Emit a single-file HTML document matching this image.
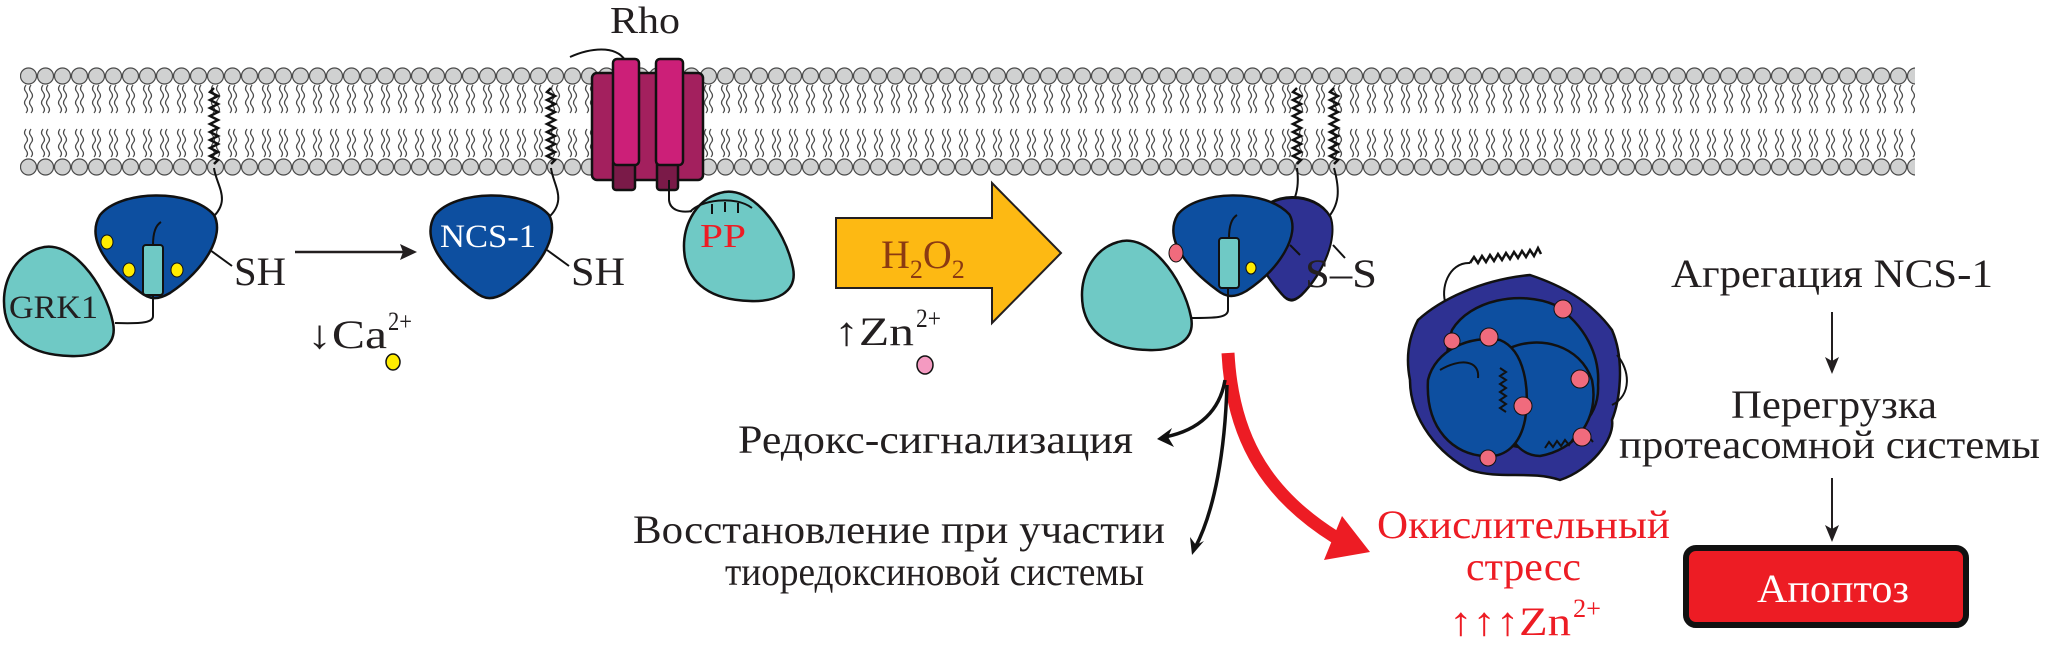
<!DOCTYPE html>
<html><head><meta charset="utf-8"><style>
html,body{margin:0;padding:0;background:#fff;}
svg{display:block;}
text{font-family:"Liberation Serif","DejaVu Serif",serif;fill:#231f20;}
</style></head><body>
<svg width="2048" height="651" viewBox="0 0 2048 651" xmlns="http://www.w3.org/2000/svg">
<defs>
<pattern id="heads" x="20" y="0" width="17" height="651" patternUnits="userSpaceOnUse">
<circle cx="8.5" cy="76" r="8" fill="#d0d1d1" stroke="#4a4a4a" stroke-width="1.2"/>
<circle cx="8.5" cy="167" r="8" fill="#d0d1d1" stroke="#4a4a4a" stroke-width="1.2"/>
<path d="M6,85 q-3,4 0,7 q3,4 0,7 q-3,4 0,7 q3,4 0,7 M11,85 q-3,4 0,7 q3,4 0,7 q-3,4 0,7 q3,4 0,7" fill="none" stroke="#4a4a4a" stroke-width="1.2"/>
<path d="M6,129 q-3,4 0,7 q3,4 0,7 q-3,4 0,7 q3,4 0,7 M11,129 q-3,4 0,7 q3,4 0,7 q-3,4 0,7 q3,4 0,7" fill="none" stroke="#4a4a4a" stroke-width="1.2"/>
</pattern>
<path id="ncs" d="M11,22 C31,-3 101,-5 125,22 C136,42 116,77 81,100 C69,107 61,107 51,99 C21,77 -4,47 11,22Z"/>
<path id="egg" d="M40,5 C70,-5 105,40 113,80 C118,105 95,114 70,113 C30,112 10,95 5,70 C0,40 15,12 40,5Z"/>
</defs>
<rect x="20" y="60" width="1895" height="125" fill="url(#heads)"/>

<g fill="none" stroke="#111" stroke-width="2.5">
<path d="M214,88 l-4,4 l8,4 l-8,4 l8,4 l-8,4 l8,4 l-8,4 l8,4 l-8,4 l8,4 l-8,4 l8,4 l-8,4 l8,4 l-8,4 l8,4 l-8,4 l8,4 l-4,4"/>
<path d="M551,88 l-4,4 l8,4 l-8,4 l8,4 l-8,4 l8,4 l-8,4 l8,4 l-8,4 l8,4 l-8,4 l8,4 l-8,4 l8,4 l-8,4 l8,4 l-8,4 l8,4 l-4,4"/>
<path d="M1297,88 l-4,4 l8,4 l-8,4 l8,4 l-8,4 l8,4 l-8,4 l8,4 l-8,4 l8,4 l-8,4 l8,4 l-8,4 l8,4 l-8,4 l8,4 l-8,4 l8,4 l-4,4"/>
<path d="M1334,88 l-4,4 l8,4 l-8,4 l8,4 l-8,4 l8,4 l-8,4 l8,4 l-8,4 l8,4 l-8,4 l8,4 l-8,4 l8,4 l-8,4 l8,4 l-8,4 l8,4 l-4,4"/>
</g>
<g fill="none" stroke="#111" stroke-width="2">
<path d="M214,168 C216,185 232,200 212,218"/>
<path d="M551,168 C553,185 568,200 548,218"/>
<path d="M1297,168 C1300,190 1295,205 1280,218"/>
<path d="M1334,168 C1340,190 1340,205 1326,220"/>
</g>

<text x="610" y="33" font-size="38" textLength="70" lengthAdjust="spacingAndGlyphs">Rho</text>
<path d="M570,57 C590,48 615,45 625,60" fill="none" stroke="#111" stroke-width="2"/>
<rect x="592" y="73" width="111" height="107" rx="5" fill="#a3205e" stroke="#111" stroke-width="2.5"/>
<rect x="613" y="160" width="22" height="30" rx="3" fill="#7a1a48" stroke="#111" stroke-width="2.5"/>
<rect x="657" y="160" width="21" height="30" rx="3" fill="#7a1a48" stroke="#111" stroke-width="2.5"/>
<rect x="613" y="59" width="26" height="106" rx="4" fill="#cc1f78" stroke="#111" stroke-width="2.5"/>
<rect x="656" y="59" width="27" height="106" rx="4" fill="#cc1f78" stroke="#111" stroke-width="2.5"/>
<path d="M669,180 L669,200 C670,210 680,213 692,211" fill="none" stroke="#111" stroke-width="2"/>

<use href="#egg" transform="translate(680,188)" fill="#6fc9c5" stroke="#111" stroke-width="2.5"/>
<path d="M690,212 C700,200 735,195 752,208 M712,204 v10 M725,202 v10 M738,203 v10" fill="none" stroke="#111" stroke-width="2"/>
<text x="700" y="247" font-size="34" style="fill:#ed1c24" textLength="46" lengthAdjust="spacingAndGlyphs">PP</text>

<use href="#egg" transform="translate(0,243)" fill="#6fc9c5" stroke="#111" stroke-width="2.5"/>
<text x="9" y="318" font-size="33" textLength="89" lengthAdjust="spacingAndGlyphs">GRK1</text>
<use href="#ncs" transform="translate(89,193)" fill="#0d4fa0" stroke="#111" stroke-width="2.5"/>
<path d="M153,245 C153,232 156,225 161,222" fill="none" stroke="#111" stroke-width="2"/>
<rect x="143" y="245" width="20" height="50" rx="3" fill="#6fc9c5" stroke="#111" stroke-width="2"/>
<path d="M153,295 L153,316 C153,322 145,324 115,323" fill="none" stroke="#111" stroke-width="2"/>
<ellipse cx="107" cy="242" rx="6" ry="7" fill="#ffec00" stroke="#111" stroke-width="1"/>
<ellipse cx="129" cy="270" rx="6" ry="7" fill="#ffec00" stroke="#111" stroke-width="1"/>
<ellipse cx="177" cy="270" rx="6" ry="7" fill="#ffec00" stroke="#111" stroke-width="1"/>
<line x1="210" y1="250" x2="232" y2="266" stroke="#111" stroke-width="2"/>
<text x="234" y="285" font-size="40" textLength="52" lengthAdjust="spacingAndGlyphs">SH</text>

<line x1="295" y1="252" x2="405" y2="252" stroke="#231f20" stroke-width="2.5"/>
<path d="M417,252 L400,244 L403,252 L400,260Z" fill="#231f20"/>

<use href="#ncs" transform="translate(424,193)" fill="#0d4fa0" stroke="#111" stroke-width="2.5"/>
<text x="440" y="247" font-size="33" style="fill:#fff" textLength="96" lengthAdjust="spacingAndGlyphs">NCS-1</text>
<line x1="547" y1="250" x2="569" y2="266" stroke="#111" stroke-width="2"/>
<text x="571" y="285" font-size="40" textLength="54" lengthAdjust="spacingAndGlyphs">SH</text>

<text x="307" y="348" font-size="40" textLength="80" lengthAdjust="spacingAndGlyphs">↓Ca</text>
<text x="388" y="330" font-size="26" textLength="24" lengthAdjust="spacingAndGlyphs">2+</text>
<ellipse cx="393" cy="362" rx="7" ry="8" fill="#ffec00" stroke="#111" stroke-width="1.5"/>

<path d="M836,218 L992,218 L992,183 L1061,253 L992,323 L992,288 L836,288Z" fill="#fdb913" stroke="#231f20" stroke-width="2"/>
<text x="881" y="268" font-size="40" style="fill:#8b3a12">H<tspan font-size="26" dy="10">2</tspan><tspan dy="-10">O</tspan><tspan font-size="26" dy="10">2</tspan></text>

<text x="834" y="345" font-size="40" textLength="80" lengthAdjust="spacingAndGlyphs">↑Zn</text>
<text x="916" y="327" font-size="26" textLength="25" lengthAdjust="spacingAndGlyphs">2+</text>
<ellipse cx="925" cy="365" rx="8" ry="9" fill="#f49ac1" stroke="#111" stroke-width="1.5"/>

<use href="#egg" transform="translate(1078,237)" fill="#6fc9c5" stroke="#111" stroke-width="2.5"/>
<use href="#ncs" transform="translate(1248,195) scale(0.66,1)" fill="#2e3192" stroke="#111" stroke-width="3"/>
<use href="#ncs" transform="translate(1167,193) scale(0.98,0.98)" fill="#0d4fa0" stroke="#111" stroke-width="2.5"/>
<path d="M1229,238 C1229,225 1232,218 1237,215" fill="none" stroke="#111" stroke-width="2"/>
<rect x="1219" y="238" width="20" height="50" rx="3" fill="#6fc9c5" stroke="#111" stroke-width="2"/>
<path d="M1228,288 L1228,310 C1228,318 1215,318 1190,318" fill="none" stroke="#111" stroke-width="2"/>
<ellipse cx="1176" cy="253" rx="7" ry="9" fill="#f06b7d" stroke="#111" stroke-width="1"/>
<ellipse cx="1251" cy="268" rx="5" ry="6" fill="#ffec00" stroke="#111" stroke-width="1"/>
<line x1="1290" y1="245" x2="1300" y2="255" stroke="#111" stroke-width="2"/>
<line x1="1333" y1="245" x2="1345" y2="258" stroke="#111" stroke-width="2"/>
<text x="1305" y="287" font-size="40" textLength="72" lengthAdjust="spacingAndGlyphs">S–S</text>

<path d="M1228,353 C1232,430 1260,490 1335,537" fill="none" stroke="#ed1c24" stroke-width="13"/>
<path d="M1370,552 L1324,560 L1342,516Z" fill="#ed1c24"/>
<path d="M1225,380 C1220,410 1200,430 1165,437" fill="none" stroke="#111" stroke-width="3.5"/>
<path d="M1157,439 L1172,428 L1168,437 L1174,447Z" fill="#111"/>
<path d="M1227,385 C1225,450 1215,510 1195,548" fill="none" stroke="#111" stroke-width="3.5"/>
<path d="M1192,555 L1190,537 L1196,545 L1204,541Z" fill="#111"/>

<text x="738" y="453" font-size="40" textLength="395" lengthAdjust="spacingAndGlyphs">Редокс-сигнализация</text>
<text x="633" y="543" font-size="40" textLength="532" lengthAdjust="spacingAndGlyphs">Восстановление при участии</text>
<text x="725" y="585" font-size="40" textLength="419" lengthAdjust="spacingAndGlyphs">тиоредоксиновой системы</text>

<text x="1377" y="538" font-size="40" style="fill:#ed1c24" textLength="293" lengthAdjust="spacingAndGlyphs">Окислительный</text>
<text x="1466" y="580" font-size="40" style="fill:#ed1c24" textLength="115" lengthAdjust="spacingAndGlyphs">стресс</text>
<text x="1449" y="635" font-size="40" style="fill:#ed1c24" textLength="122" lengthAdjust="spacingAndGlyphs">↑↑↑Zn</text>
<text x="1573" y="617" font-size="26" style="fill:#ed1c24" textLength="28" lengthAdjust="spacingAndGlyphs">2+</text>

<path d="M1446,304 C1440,290 1448,262 1470,263" fill="none" stroke="#111" stroke-width="2"/>
<path d="M1470,263 l4,-6 l4,6 l4,-7 l4,6 l4,-7 l4,6 l4,-7 l4,6 l4,-7 l4,6 l4,-7 l4,6 l4,-7 l4,6 l4,-7 l4,6 l4,-8 l3,6" fill="none" stroke="#111" stroke-width="2.5"/>
<path d="M1418,320 C1440,300 1480,280 1530,275 C1560,285 1590,300 1612,330 C1625,360 1620,400 1612,420 C1615,440 1590,470 1560,480 C1530,470 1500,480 1470,470 C1440,455 1410,420 1410,380 C1405,355 1410,335 1418,320Z" fill="#2e3192" stroke="#111" stroke-width="2.5"/>
<path d="M1617,355 C1630,370 1632,395 1612,405" fill="none" stroke="#111" stroke-width="2"/>
<path d="M1452,330 C1470,300 1520,290 1555,305 C1585,325 1600,355 1598,385 C1600,420 1570,440 1540,448 C1500,450 1470,430 1455,400 C1445,375 1445,350 1452,330Z" fill="#0d4fa0" stroke="#111" stroke-width="2.5"/>
<path d="M1510,348 C1540,335 1580,345 1592,380 C1600,420 1575,450 1540,456 C1510,455 1495,420 1510,348Z" fill="#0d4fa0" stroke="#111" stroke-width="2.5"/>
<path d="M1428,380 C1435,350 1470,335 1500,340 C1525,350 1530,390 1525,420 C1520,445 1505,458 1485,456 C1455,455 1425,430 1428,380Z" fill="#0d4fa0" stroke="#111" stroke-width="2.5"/>
<path d="M1440,370 C1460,358 1480,360 1478,378 M1500,368 l6,4 l-6,4 l6,4 l-6,4 l6,4 l-6,4 l6,4 l-6,4 l6,4 l-6,4 l6,4 M1545,448 l4,-6 l4,5 l4,-6 l4,5 l4,-6 l4,5 l4,-6 l4,5 l4,-6 l4,5 l4,-6 l4,5" fill="none" stroke="#111" stroke-width="2"/>
<g fill="#f06b7d" stroke="#111" stroke-width="1">
<circle cx="1563" cy="309" r="9"/><circle cx="1489" cy="337" r="9"/><circle cx="1452" cy="341" r="8"/>
<circle cx="1580" cy="379" r="9"/><circle cx="1523" cy="406" r="9"/><circle cx="1582" cy="437" r="9"/><circle cx="1488" cy="458" r="8"/>
</g>

<text x="1671" y="287" font-size="40" textLength="322" lengthAdjust="spacingAndGlyphs">Агрегация NCS-1</text>
<line x1="1832" y1="312" x2="1832" y2="362" stroke="#231f20" stroke-width="2"/>
<path d="M1832,374 L1825,357 L1832,361 L1839,357Z" fill="#231f20"/>
<text x="1731" y="418" font-size="40" textLength="206" lengthAdjust="spacingAndGlyphs">Перегрузка</text>
<text x="1619" y="458" font-size="40" textLength="421" lengthAdjust="spacingAndGlyphs">протеасомной системы</text>
<line x1="1832" y1="478" x2="1832" y2="530" stroke="#231f20" stroke-width="2"/>
<path d="M1832,542 L1825,525 L1832,529 L1839,525Z" fill="#231f20"/>
<rect x="1686" y="548" width="280" height="77" rx="10" fill="#ed1c24" stroke="#111" stroke-width="6"/>
<text x="1757" y="602" font-size="40" style="fill:#fff" textLength="152" lengthAdjust="spacingAndGlyphs">Апоптоз</text>
</svg>
</body></html>
